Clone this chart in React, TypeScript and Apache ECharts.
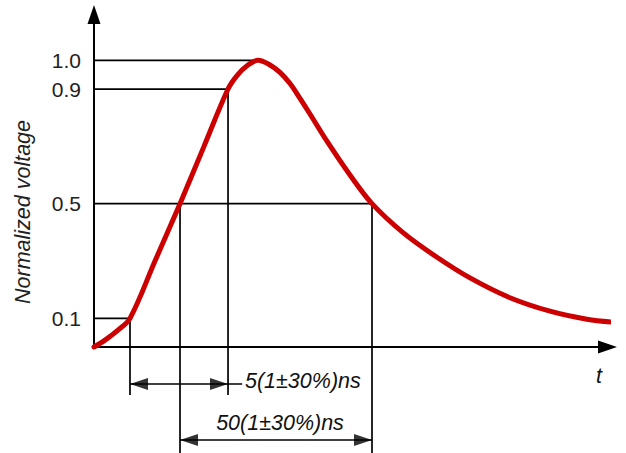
import React, { useEffect, useRef } from "react";
import * as echarts from "echarts";

// Normalized voltage waveform (schematic), time in relative units (no tick labels)
const curveX = [0, 2.14, 4.67, 7.01, 11.88, 16.75, 21.42, 26.1, 27.85, 29.8, 31.94, 34.27, 36.22, 38.17, 39.73, 42.06, 45.37, 49.85, 54.14, 60.18, 66.8, 73.22, 81.01, 88.8, 96.0, 101.46];
const curveY = [0, 0.024, 0.059, 0.1, 0.3, 0.5, 0.7, 0.9, 0.947, 0.981, 1.0, 0.984, 0.958, 0.919, 0.878, 0.813, 0.718, 0.6, 0.5, 0.399, 0.313, 0.241, 0.172, 0.125, 0.097, 0.086];

// Reference levels and where the waveform crosses them
const levels = [0.1, 0.5, 0.9, 1.0];
const levelLabels = ["0.1", "0.5", "0.9", "1.0"];
const riseCross = [7.01, 16.75, 26.1, 31.94];
const fallCross50 = 54.14;

// Dimension lines below the time axis (in voltage units of the axis)
const dimRiseY = -0.129;
const dimRiseEnd = 28.85;
const dimRiseBottom = -0.1675;
const dimWidthY = -0.3245;
const dimWidthBottom = -0.37;
const riseText = "5(1±30%)ns";
const widthText = "50(1±30%)ns";
const yName = "Normalized voltage";
const xName = "t";

const FONT = "'Liberation Sans', Arial, sans-serif";

export default function App() {
  const ref = useRef<HTMLDivElement>(null);
  useEffect(() => {
    if (!ref.current) return;
    const chart = echarts.init(ref.current, null, { renderer: "svg" });
    const black = { color: "#000", width: 1.7 };
    const seg = (pts: number[][]) => ({
      type: "line",
      data: pts,
      symbol: "none",
      clip: false,
      silent: true,
      lineStyle: black,
      z: 2,
    });
    const segments: number[][][] = [];
    // horizontal level lines
    levels.forEach((lv, i) => {
      const endX = lv === 0.5 ? fallCross50 : riseCross[i];
      segments.push([[0, lv], [endX, lv]]);
    });
    // vertical drop lines
    segments.push([[riseCross[0], levels[0]], [riseCross[0], dimRiseBottom]]);
    segments.push([[riseCross[2], levels[2]], [riseCross[2], dimRiseBottom]]);
    segments.push([[riseCross[1], levels[1]], [riseCross[1], dimWidthBottom]]);
    segments.push([[fallCross50, 0.5], [fallCross50, dimWidthBottom]]);
    // dimension lines
    segments.push([[riseCross[0], dimRiseY], [dimRiseEnd, dimRiseY]]);
    segments.push([[riseCross[1], dimWidthY], [fallCross50, dimWidthY]]);

    const arrowCommon = {
      type: "scatter",
      symbol: "triangle",
      symbolSize: [12, 18],
      clip: false,
      silent: true,
      itemStyle: { color: "#000" },
      z: 4,
    };

    const textStyle = (text: string, align: string) => ({
      text,
      font: `italic 21.5px ${FONT}`,
      fill: "#111",
      align,
      verticalAlign: "middle",
    });

    chart.setOption({
      animation: false,
      backgroundColor: "#fff",
      grid: { left: 94, top: 14.5, right: 18.5, bottom: 106 },
      xAxis: {
        type: "value",
        min: 0,
        max: 100,
        axisLine: {
          show: true,
          onZero: false,
          symbol: ["none", "triangle"],
          symbolSize: [13, 19],
          lineStyle: { color: "#000", width: 2 },
        },
        axisTick: { show: false },
        axisLabel: { show: false },
        splitLine: { show: false },
      },
      yAxis: {
        type: "value",
        min: 0,
        max: 1.16,
        axisLine: {
          show: true,
          onZero: false,
          symbol: ["none", "triangle"],
          symbolSize: [13, 19],
          lineStyle: { color: "#000", width: 2 },
        },
        axisTick: { show: false },
        splitLine: { show: false },
        axisLabel: {
          customValues: levels,
          formatter: (v: number) => {
            const i = levels.findIndex((l) => Math.abs(l - v) < 1e-6);
            return i >= 0 ? levelLabels[i] : "";
          },
          fontSize: 21,
          fontFamily: FONT,
          color: "#222",
          margin: 13,
        },
      },
      series: [
        ...segments.map(seg),
        {
          ...arrowCommon,
          symbolRotate: 90,
          symbolOffset: [9, 0],
          data: [[riseCross[0], dimRiseY], [riseCross[1], dimWidthY]],
        },
        {
          ...arrowCommon,
          symbolRotate: -90,
          symbolOffset: [-9, 0],
          data: [[riseCross[2], dimRiseY], [fallCross50, dimWidthY]],
        },
        {
          type: "line",
          data: curveX.map((x, i) => [x, curveY[i]]),
          smooth: 0.35,
          symbol: "none",
          clip: false,
          silent: true,
          lineStyle: { color: "#cc0000", width: 5, cap: "round" },
          z: 5,
        },
      ],
      graphic: [
        {
          type: "text",
          x: 23,
          y: 212,
          rotation: Math.PI / 2,
          style: { ...textStyle(yName, "center"), fill: "#222" },
        },
        { type: "text", x: 245, y: 381, style: textStyle(riseText, "left") },
        { type: "text", x: 280, y: 423, style: textStyle(widthText, "center") },
        { type: "text", x: 599, y: 376, style: textStyle(xName, "center") },
      ],
    });
    return () => chart.dispose();
  }, []);
  return (
    <div
      ref={ref}
      style={{ position: "fixed", left: 0, top: 0, width: 626, height: 453 }}
    />
  );
}
